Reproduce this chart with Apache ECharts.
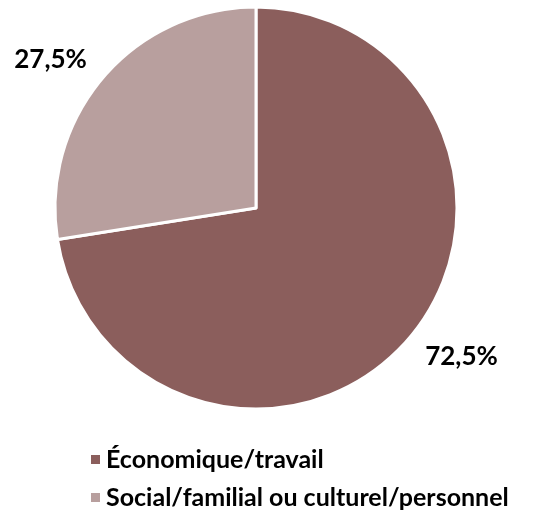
<!DOCTYPE html>
<html><head><meta charset="utf-8">
<script src="https://cdn.jsdelivr.net/npm/echarts@6/dist/echarts.min.js"></script>
<style>html,body{margin:0;padding:0;background:#fff}#c{width:535px;height:511px}</style>
</head><body><div id="c"></div>
<script>
const categories = ['Économique/travail', 'Social/familial ou culturel/personnel'];
const values = [72.5, 27.5];
const colors = ['#8B5E5C', '#B89F9E'];
const chart = echarts.init(document.getElementById('c'));
chart.setOption({
  animation: false,
  legend: {
    orient: 'vertical', left: 84, top: 442, height: 100,
    icon: 'rect', itemWidth: 11, itemHeight: 11, itemGap: 13,
    textStyle: { fontFamily: 'Lato', fontWeight: 'bold', fontSize: 25, color: '#000' },
    data: categories
  },
  series: [{
    type: 'pie', center: [256, 208], radius: [0, 201], startAngle: 90, clockwise: true,
    itemStyle: { borderColor: '#fff', borderWidth: 3 },
    label: {
      show: true, position: 'outside', overflow: 'none', distanceToLabelLine: -5,
      formatter: p => p.value.toFixed(1).replace('.', ',') + '%',
      fontFamily: 'Lato', fontWeight: 'bold', fontSize: 26, color: '#000'
    },
    labelLine: { show: false, length: 28, length2: 0 },
    emphasis: { disabled: true },
    data: categories.map((n, i) => ({ name: n, value: values[i], itemStyle: { color: colors[i] } }))
  }]
});
</script></body></html>
